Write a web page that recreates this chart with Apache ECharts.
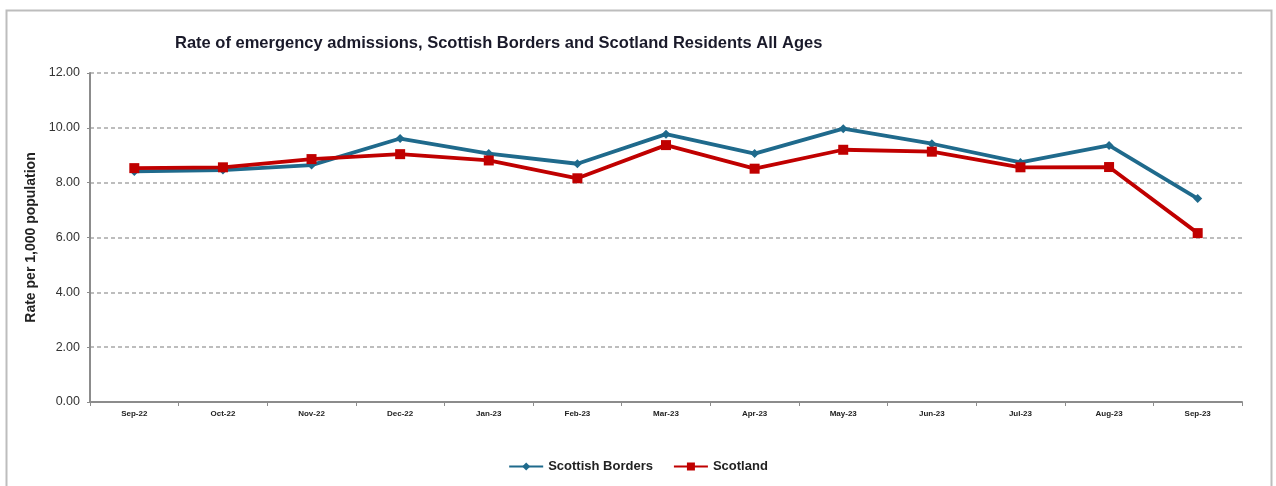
<!DOCTYPE html>
<html>
<head>
<meta charset="utf-8">
<script src="https://cdn.jsdelivr.net/npm/echarts@6/dist/echarts.min.js"></script>
<style>
  html, body { margin: 0; padding: 0; background: #fff; }
  #chart { width: 1276px; height: 486px; }
</style>
</head>
<body>
<div id="chart"></div>
<script>
const months = ['Sep-22', 'Oct-22', 'Nov-22', 'Dec-22', 'Jan-23', 'Feb-23', 'Mar-23',
                'Apr-23', 'May-23', 'Jun-23', 'Jul-23', 'Aug-23', 'Sep-23'];
const bordersRate = [8.41, 8.46, 8.64, 9.61, 9.06, 8.69, 9.77, 9.06, 9.97, 9.42, 8.74, 9.36, 7.42];
const scotlandRate = [8.53, 8.56, 8.86, 9.04, 8.81, 8.16, 9.37, 8.51, 9.20, 9.13, 8.56, 8.57, 6.16];

const blue = '#1f6a8c';
const red = '#c00000';
const font = '"Liberation Sans", Arial, sans-serif';

const chart = echarts.init(document.getElementById('chart'), null, { renderer: 'canvas' });
chart.setOption({
  backgroundColor: '#ffffff',
  animation: false,
  graphic: [{
    type: 'rect',
    shape: { x: 6.5, y: 10.5, width: 1265, height: 500 },
    style: { fill: 'none', stroke: '#bdbdbd', lineWidth: 2 },
    silent: true
  }],
  title: {
    text: 'Rate of emergency admissions, Scottish Borders and Scotland Residents All Ages',
    left: 170,
    top: 30,
    textStyle: { fontFamily: font, fontSize: 16.5, fontWeight: 'bold', color: '#1a1a2a' }
  },
  legend: {
    bottom: 8,
    left: 'center',
    itemGap: 20,
    itemWidth: 34,
    itemHeight: 10,
    textStyle: { fontFamily: font, fontSize: 13, fontWeight: 'bold', color: '#222' },
    data: ['Scottish Borders', 'Scotland']
  },
  grid: { left: 90, right: 34, top: 73, bottom: 84 },
  xAxis: {
    type: 'category',
    data: months,
    boundaryGap: true,
    axisLine: { lineStyle: { color: '#8c8c8c', width: 2 } },
    axisTick: { show: true, length: 4, lineStyle: { color: '#8c8c8c' } },
    axisLabel: { fontFamily: font, fontSize: 8, fontWeight: 'bold', color: '#222', margin: 8 }
  },
  yAxis: {
    type: 'value',
    min: 0,
    max: 12,
    interval: 2,
    name: 'Rate per 1,000 population',
    nameLocation: 'middle',
    nameGap: 50,
    nameTextStyle: { fontFamily: font, fontSize: 14, fontWeight: 'bold', color: '#222' },
    axisLine: { show: true, lineStyle: { color: '#8c8c8c', width: 2 } },
    axisTick: { show: true, length: 3, lineStyle: { color: '#8c8c8c' } },
    axisLabel: {
      fontFamily: font, fontSize: 12.5, color: '#333', margin: 10,
      formatter: v => v.toFixed(2)
    },
    splitLine: { lineStyle: { color: '#a8a8a8', type: [4, 3], width: 1.5 } }
  },
  series: [
    {
      name: 'Scottish Borders',
      type: 'line',
      data: bordersRate,
      symbol: 'diamond',
      symbolSize: 9,
      color: blue,
      lineStyle: { width: 3.8, color: blue },
      itemStyle: { color: blue }
    },
    {
      name: 'Scotland',
      type: 'line',
      data: scotlandRate,
      symbol: 'rect',
      symbolSize: 10,
      color: red,
      lineStyle: { width: 3.8, color: red },
      itemStyle: { color: red }
    }
  ]
});
</script>
</body>
</html>
